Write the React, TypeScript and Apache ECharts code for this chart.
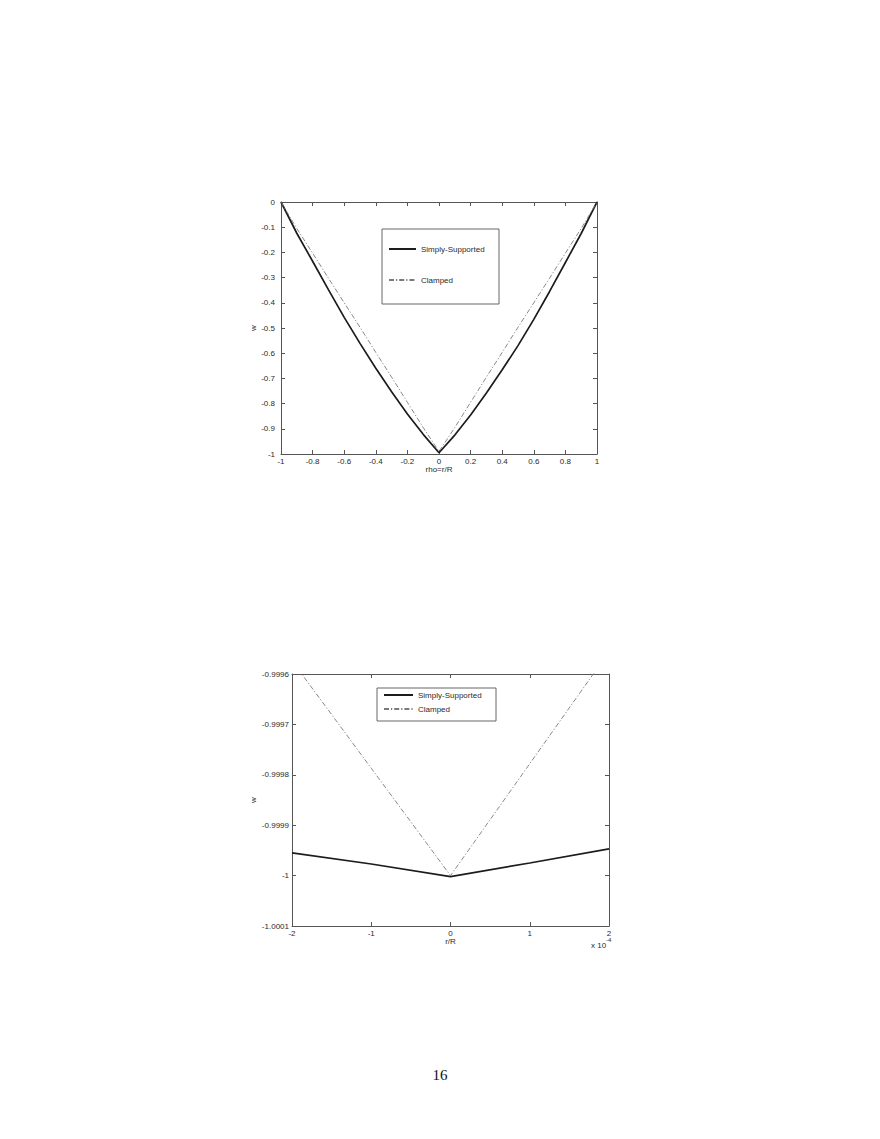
import React, { useEffect, useRef } from "react";
import * as echarts from "echarts";

// ---- Top chart data (rho = r/R) ----
const topX = [-1, -0.9, -0.8, -0.7, -0.6, -0.5, -0.4, -0.3, -0.2, -0.1, 0, 0.1, 0.2, 0.3, 0.4, 0.5, 0.6, 0.7, 0.8, 0.9, 1];
const topSimply = [0, -0.124, -0.235, -0.348, -0.458, -0.561, -0.66, -0.753, -0.841, -0.922, -0.995, -0.925, -0.845, -0.758, -0.666, -0.57, -0.466, -0.355, -0.24, -0.125, 0];
const topClamped = [0, -0.105, -0.203, -0.302, -0.4, -0.497, -0.597, -0.695, -0.795, -0.895, -0.99, -0.895, -0.795, -0.695, -0.597, -0.497, -0.4, -0.302, -0.203, -0.105, 0];

// ---- Bottom chart data (r/R in units of 1e-4) ----
const botX = [-2, -1, 0, 1, 2];
const botSimply = [-0.999955, -0.999977, -1.000002, -0.999975, -0.999947];
const botClamped = [-0.999574, -0.999787, -1.0, -0.999778, -0.999556];

const topXTicks = { min: -1, max: 1, interval: 0.2 };
const topYTicks = { min: -1, max: 0, interval: 0.1 };
const botXTicks = { min: -2, max: 2, interval: 1 };
const botYTicks = { min: -1.0001, max: -0.9996, interval: 0.0001 };

const seriesNames = ["Simply-Supported", "Clamped"];

const FONT = "Liberation Sans, Arial, sans-serif";
const BOX = "#555";
const TXT = "#2a2a2a";

function fmt(d: number) {
  return (v: number) => String(parseFloat(v.toFixed(d)));
}

function axisPair(kind: "x" | "y", grid: number, ticks: any, d: number, name: string, nameGap: number, labelMargin: number) {
  const common = {
    type: "value",
    gridIndex: grid,
    min: ticks.min,
    max: ticks.max,
    interval: ticks.interval,
    splitLine: { show: false },
    axisLine: { show: true, onZero: false, lineStyle: { color: BOX, width: 1 } },
    axisTick: { show: true, inside: true, length: 4, lineStyle: { color: BOX, width: 1 } },
  };
  const main = {
    ...common,
    position: kind === "x" ? "bottom" : "left",
    name,
    nameLocation: "middle",
    nameGap,
    nameRotate: kind === "y" ? 90 : 0,
    nameTextStyle: { fontFamily: FONT, fontSize: 8, color: TXT },
    axisLabel: {
      show: true,
      fontFamily: FONT,
      fontSize: 8,
      color: TXT,
      margin: labelMargin,
      showMinLabel: true,
      showMaxLabel: true,
      formatter: fmt(d),
    },
  };
  const mirror = {
    ...common,
    position: kind === "x" ? "top" : "right",
    axisLabel: { show: false },
  };
  return [main, mirror];
}

const solidStyle = { color: "#1c1c1c", width: 1.7, type: "solid" };
const dashStyle = { color: "#7a7a7a", width: 0.9, type: [5, 2, 1.2, 2] };

export default function App() {
  const ref = useRef<HTMLDivElement>(null);

  useEffect(() => {
    if (!ref.current) return;
    const chart = echarts.init(ref.current, undefined, { renderer: "svg" });

    const xAxes = [
      ...axisPair("x", 0, topXTicks, 1, "rho=r/R", 11, 3),
      ...axisPair("x", 1, botXTicks, 0, "r/R", 11, 3),
    ];
    const yAxes = [
      ...axisPair("y", 0, topYTicks, 1, "w", 21, 6),
      ...axisPair("y", 1, botYTicks, 4, "w", 33, 3),
    ];

    const legendCommon = {
      data: seriesNames,
      orient: "vertical",
      padding: 0,
      itemHeight: 10,
      selectedMode: false,
      itemStyle: { opacity: 0 },
      textStyle: { fontFamily: FONT, fontSize: 8, color: TXT },
    };

    const option = {
      animation: false,
      backgroundColor: "#ffffff",
      grid: [
        { left: 281, top: 202, width: 316, height: 252, show: false },
        { left: 292, top: 674, width: 317, height: 252, show: false },
      ],
      xAxis: xAxes,
      yAxis: yAxes,
      legend: [
        { ...legendCommon, left: 388, top: 245, itemWidth: 27, itemGap: 23 },
        { ...legendCommon, left: 383, top: 691, itemWidth: 29, itemGap: 6 },
      ],
      series: [
        {
          name: seriesNames[0],
          type: "line",
          xAxisIndex: 0,
          yAxisIndex: 0,
          symbol: "none",
          clip: true,
          lineStyle: solidStyle,
          itemStyle: { color: solidStyle.color },
          data: topX.map((x, i) => [x, topSimply[i]]),
        },
        {
          name: seriesNames[1],
          type: "line",
          xAxisIndex: 0,
          yAxisIndex: 0,
          symbol: "none",
          clip: true,
          lineStyle: dashStyle,
          itemStyle: { color: dashStyle.color },
          data: topX.map((x, i) => [x, topClamped[i]]),
        },
        {
          name: seriesNames[0],
          type: "line",
          xAxisIndex: 2,
          yAxisIndex: 2,
          symbol: "none",
          clip: true,
          lineStyle: solidStyle,
          itemStyle: { color: solidStyle.color },
          data: botX.map((x, i) => [x, botSimply[i]]),
        },
        {
          name: seriesNames[1],
          type: "line",
          xAxisIndex: 2,
          yAxisIndex: 2,
          symbol: "none",
          clip: true,
          lineStyle: dashStyle,
          itemStyle: { color: dashStyle.color },
          data: botX.map((x, i) => [x, botClamped[i]]),
        },
      ],
      graphic: [
        {
          type: "rect",
          shape: { x: 382, y: 229, width: 117, height: 75 },
          style: { fill: "none", stroke: "#666", lineWidth: 1 },
          z: 1,
        },
        {
          type: "rect",
          shape: { x: 377, y: 688, width: 119, height: 33 },
          style: { fill: "none", stroke: "#666", lineWidth: 1 },
          z: 1,
        },
        {
          type: "text",
          x: 591,
          y: 935,
          style: {
            text: "{a|x 10}{b|-4}",
            rich: {
              a: { fontFamily: FONT, fontSize: 8, fill: TXT, padding: [6, 0, 0, 0] },
              b: { fontFamily: FONT, fontSize: 6, fill: TXT, padding: [0, 0, 5, 0] },
            },
          },
        },
        {
          type: "text",
          x: 440,
          y: 1075,
          style: {
            text: "16",
            fontFamily: "Liberation Serif, Times New Roman, serif",
            fontSize: 15,
            fill: "#111",
            textAlign: "center",
            textVerticalAlign: "middle",
          },
        },
      ],
    };

    chart.setOption(option as any);
    return () => chart.dispose();
  }, []);

  return (
    <div
      ref={ref}
      style={{ position: "absolute", left: 0, top: 0, width: 880, height: 1139, background: "#fff" }}
    />
  );
}
